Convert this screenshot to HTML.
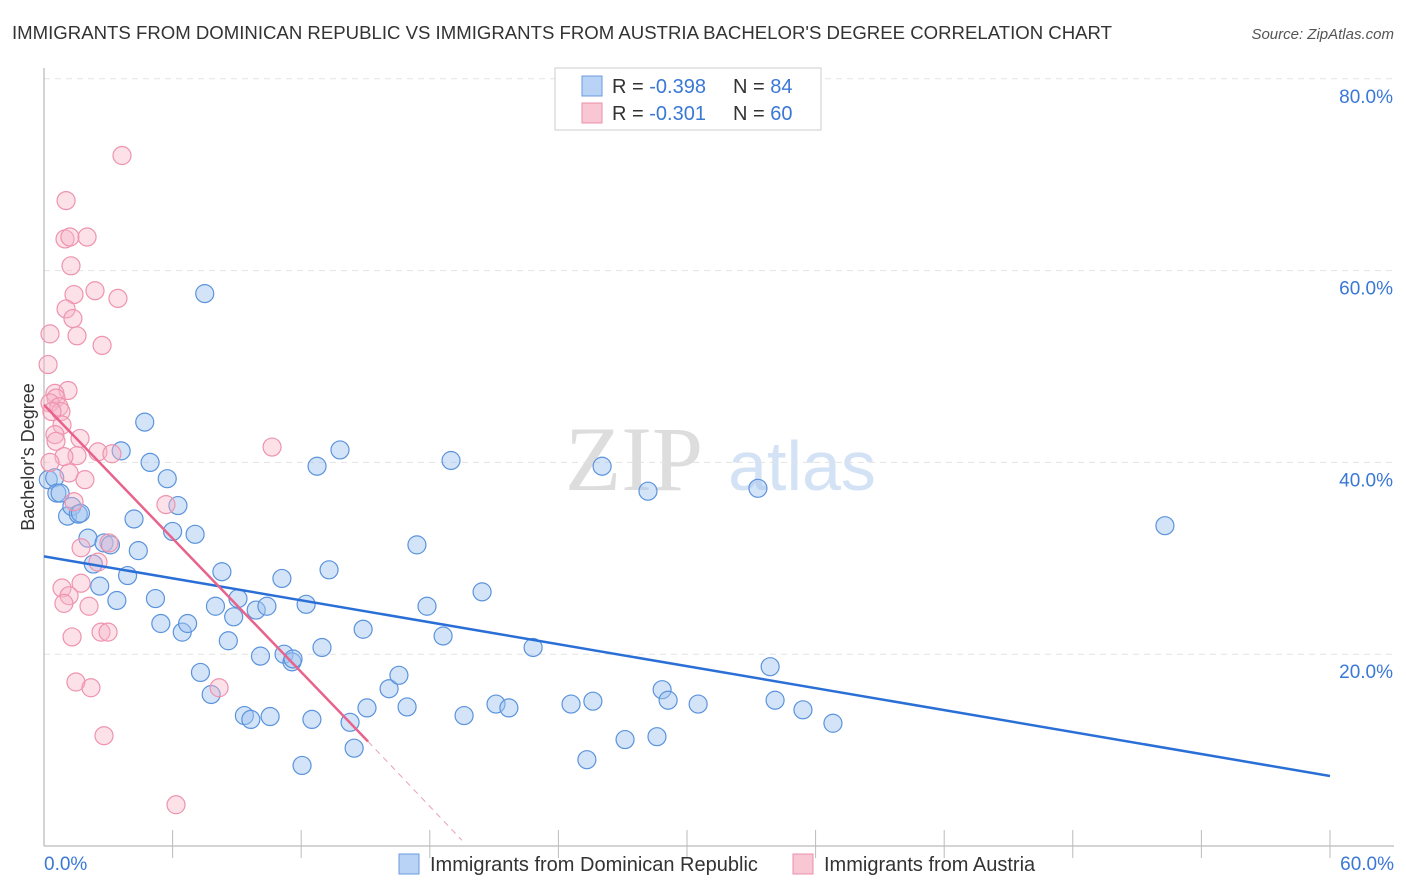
<!DOCTYPE html>
<html><head><meta charset="utf-8">
<style>
body{margin:0;background:#fff;font-family:"Liberation Sans",sans-serif;}
svg{display:block}
</style></head>
<body>
<svg id="chart" width="1406" height="892" xmlns="http://www.w3.org/2000/svg">
<text x="12" y="39" font-size="18.6" fill="#333">IMMIGRANTS FROM DOMINICAN REPUBLIC VS IMMIGRANTS FROM AUSTRIA BACHELOR'S DEGREE CORRELATION CHART</text>
<text x="1394" y="39" font-size="15" fill="#555" text-anchor="end" font-style="italic">Source: ZipAtlas.com</text>
<g>
<text x="634" y="490" font-size="92" fill="#ddd" font-family="Liberation Serif" text-anchor="middle">ZIP</text>
<text x="802" y="490" font-size="70" fill="#d4e2f5" text-anchor="middle">atlas</text>
</g>
<g id="grid"></g>
<g id="axes"></g>
<g id="pts"></g>
<g id="lines"></g>
<text transform="translate(34,457) rotate(-90)" font-size="18" fill="#333" text-anchor="middle">Bachelor's Degree</text>
<g>
<rect x="555" y="68" width="266" height="62" fill="#fff" stroke="#ccc"/>
<rect x="582" y="76" width="20" height="20" fill="#b8d3f5" stroke="#6a9be0"/>
<rect x="582" y="103" width="20" height="20" fill="#f9c6d4" stroke="#ec8fab"/>
<text x="612" y="93" font-size="20" fill="#333">R = <tspan fill="#3a78d6">-0.398</tspan></text>
<text x="733" y="93" font-size="20" fill="#333">N = <tspan fill="#3a78d6">84</tspan></text>
<text x="612" y="120" font-size="20" fill="#333">R = <tspan fill="#3a78d6">-0.301</tspan></text>
<text x="733" y="120" font-size="20" fill="#333">N = <tspan fill="#3a78d6">60</tspan></text>
</g>
<g>
<rect x="399" y="854" width="20" height="20" fill="#b8d3f5" stroke="#6a9be0"/>
<text x="430" y="871" font-size="20" fill="#333">Immigrants from Dominican Republic</text>
<rect x="793" y="854" width="20" height="20" fill="#f9c6d4" stroke="#ec8fab"/>
<text x="824" y="871" font-size="20" fill="#333">Immigrants from Austria</text>
</g>
</svg>
<script>
const yTicks=[20,40,60,80];
const yTickLabels=["20.0%","40.0%","60.0%","80.0%"];
const xTickLabels=["0.0%","60.0%"];
const blueX=[0.2,0.5,0.6,0.75,1.1,1.3,1.6,1.7,2.05,2.3,2.6,2.8,3.1,3.4,3.6,3.9,4.2,4.4,4.7,4.95,5.2,5.45,5.75,6.0,6.25,6.45,6.7,7.05,7.3,7.5,7.8,8.0,8.3,8.6,8.85,9.05,9.35,9.65,9.9,10.1,10.4,10.55,11.1,11.2,11.57,11.62,12.04,12.23,12.5,12.74,12.97,13.3,13.81,14.28,14.47,14.89,15.07,16.1,16.56,16.94,17.4,17.87,18.62,18.99,19.6,20.44,21.09,21.69,22.82,24.59,25.33,25.61,26.04,27.11,28.18,28.6,28.84,29.12,30.52,33.31,33.88,34.11,35.41,36.81,52.3];
const blueY=[38.2,38.4,36.8,36.8,34.4,35.4,34.6,34.7,32.1,29.4,27.1,31.6,31.4,25.6,41.2,28.2,34.1,30.8,44.2,40.0,25.8,23.2,38.3,32.8,35.5,22.3,23.2,32.5,18.1,57.6,15.8,25.0,28.6,21.4,23.9,25.8,13.6,13.2,24.6,19.8,25.0,13.5,27.9,20.0,19.2,19.5,8.4,25.2,13.2,39.6,20.7,28.8,41.3,12.9,10.2,22.6,14.4,16.4,17.8,14.5,31.4,25.0,21.9,40.2,13.6,26.5,14.8,14.4,20.7,14.8,9.0,15.1,39.6,11.1,37.0,11.4,16.3,15.2,14.8,37.3,18.7,15.2,14.2,12.8,33.4];
const pinkX=[3.64,1.03,0.98,1.21,2.01,1.26,2.38,3.45,1.4,1.03,1.35,0.28,1.54,2.71,0.19,1.12,0.51,0.56,0.28,0.7,0.79,0.37,0.84,0.51,1.68,0.56,2.52,1.54,0.93,3.17,10.64,0.28,1.17,1.91,1.4,5.69,1.73,3.03,2.52,0.84,1.73,1.17,0.93,2.1,2.66,2.99,1.31,1.49,2.19,8.17,2.8,6.16];
const pinkY=[72.0,67.3,63.3,63.5,63.5,60.5,57.9,57.1,57.5,56.0,55.0,53.4,53.2,52.2,50.2,47.5,47.2,46.7,46.2,45.8,45.3,45.3,43.9,42.9,42.5,42.2,41.1,40.7,40.6,40.9,41.6,40.0,38.9,38.2,35.9,35.6,31.1,31.6,29.6,26.9,27.4,26.1,25.3,25.0,22.3,22.3,21.8,17.1,16.5,16.5,11.5,4.3];
const blueLine=[0,30.2,60,7.3];
const pinkLine=[0,46.0,15.12,10.9,19.5,0.6];
const NS="http://www.w3.org/2000/svg";
const X=v=>44+v*21.433, Y=v=>846-v*9.59;
function mk(t,a,p){const e=document.createElementNS(NS,t);for(const k in a)e.setAttribute(k,a[k]);p.appendChild(e);return e;}
const grid=document.getElementById('grid'),axes=document.getElementById('axes'),pts=document.getElementById('pts'),lines=document.getElementById('lines');
yTicks.forEach((t,i)=>{
 const l=mk('line',{x1:44,x2:1394,y1:Y(t),y2:Y(t),stroke:'#e3e3e3','stroke-dasharray':'6,5'},grid);
 
 
 const tx=mk('text',{x:1393,y:Y(t)+24,'font-size':19,fill:'#3a78d6','text-anchor':'end'},axes);
 tx.textContent=yTickLabels[i];
 
 
});
const ya=mk('line',{x1:44,x2:44,y1:68,y2:846,stroke:'#aaa'},axes);


const xa=mk('line',{x1:44,x2:1394,y1:846,y2:846,stroke:'#aaa'},axes);


for(let i=1;i<=10;i++){const tk=mk('line',{x1:X(i*6),x2:X(i*6),y1:830,y2:858,stroke:'#bbb'},axes);
 
 }
[[0,'start',44],[60,'end',1394]].forEach((d,i)=>{const t=mk('text',{x:d[2],y:870,'font-size':19,fill:'#3a78d6','text-anchor':d[1]},axes);t.textContent=xTickLabels[i];
 
 });
blueX.forEach((v,i)=>{const c=mk('circle',{cx:X(v),cy:Y(blueY[i]),r:9,fill:'rgba(160,196,240,0.45)',stroke:'#5b93dc','stroke-width':1.2},pts);
 
 });
pinkX.forEach((v,i)=>{const c=mk('circle',{cx:X(v),cy:Y(pinkY[i]),r:9,fill:'rgba(247,180,200,0.4)',stroke:'#ee93ae','stroke-width':1.2},pts);
 
 });
const bl=mk('line',{x1:X(blueLine[0]),y1:Y(blueLine[1]),x2:X(blueLine[2]),y2:Y(blueLine[3]),stroke:'#2a6fd6','stroke-width':2.5},lines);


const pl=mk('line',{x1:X(pinkLine[0]),y1:Y(pinkLine[1]),x2:X(pinkLine[2]),y2:Y(pinkLine[3]),stroke:'#e8638c','stroke-width':2.5},lines);


const pd=mk('line',{x1:X(pinkLine[2]),y1:Y(pinkLine[3]),x2:X(pinkLine[4]),y2:Y(pinkLine[5]),stroke:'#e8a0b5','stroke-width':1,'stroke-dasharray':'6,5'},lines);


</script>
</body></html>
